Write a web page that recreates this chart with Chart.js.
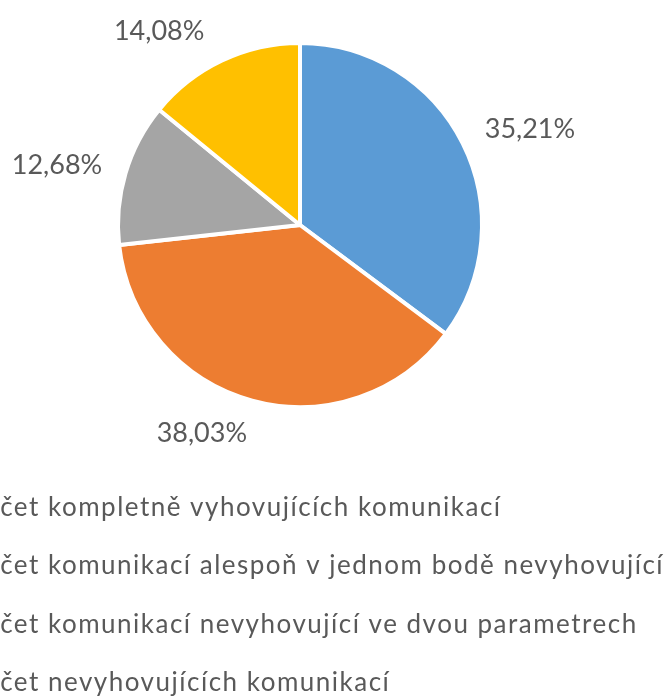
<!DOCTYPE html>
<html lang="cs">
<head>
<meta charset="utf-8">
<title>Počet komunikací</title>
<script src="https://cdn.jsdelivr.net/npm/chart.js@4/dist/chart.umd.min.js"></script>
<style>
  html, body { margin: 0; padding: 0; width: 670px; height: 697px; overflow: hidden; background: #fff; }
  #wrap { position: relative; width: 670px; height: 697px; overflow: hidden; }
  #myChart { position: absolute; top: -30px; }
</style>
</head>
<body>
<div id="wrap"><canvas id="myChart"></canvas></div>
<script>
'use strict';

const categories = [
  "Počet kompletně vyhovujících komunikací",
  "Počet komunikací alespoň v jednom bodě nevyhovující",
  "Počet komunikací nevyhovující ve dvou parametrech",
  "Počet nevyhovujících komunikací",
];
const shares = [35.21, 38.03, 12.68, 14.08];
const colors = ["#5B9BD5", "#ED7D31", "#A5A5A5", "#FFC000"];

// Excel "best fit" label placement, relative to each slice's middle
const labelAngleShift = [4.1, 10.0, -2.7, -10.7];
const labelDistance = [1.383, 1.28, 1.39, 1.33];

const textColor = "#595959";
const fontFamily = "Lato, 'Open Sans', sans-serif";
const legendFont = 26;
const legendSpacing = "1.5px";
const legendPad = 32.5;
const legendBox = 12;

function formatShare(v) {
  return v.toFixed(2).replace(".", ",") + "%";
}

// legend entries are cut at the left edge, like in the source picture ("Po" is hidden)
function canvasShift() {
  const ctx = document.createElement("canvas").getContext("2d");
  ctx.font = legendFont + "px " + fontFamily;
  ctx.letterSpacing = legendSpacing;
  return legendPad + legendBox + legendFont / 2 + ctx.measureText("Po").width;
}

// wider legend text (Calibri look); context state is reset when the canvas is sized
const spacing = {
  id: "spacing",
  beforeUpdate(chart) { chart.ctx.letterSpacing = legendSpacing; },
  beforeDraw(chart) { chart.ctx.letterSpacing = legendSpacing; },
};

const pieLabels = {
  id: "pieLabels",
  afterDatasetsDraw(chart) {
    const ctx = chart.ctx;
    const arcs = chart.getDatasetMeta(0).data;
    ctx.save();
    ctx.letterSpacing = "0px";
    ctx.font = "27px " + fontFamily;
    ctx.fillStyle = textColor;
    ctx.textAlign = "center";
    ctx.textBaseline = "middle";
    for (let i = 0; i < arcs.length; i++) {
      const arc = arcs[i];
      const mid = (arc.startAngle + arc.endAngle) / 2 + labelAngleShift[i] * Math.PI / 180;
      const dist = 180 * labelDistance[i];
      ctx.fillText(
        formatShare(shares[i]),
        arc.x + Math.cos(mid) * dist,
        arc.y + Math.sin(mid) * dist
      );
    }
    ctx.restore();
  },
};

const shift = canvasShift();
const canvas = document.getElementById("myChart");
canvas.width = Math.round(2 * (300 + shift));
canvas.height = 736;
canvas.style.left = (-shift) + "px";

new Chart(canvas, {
  type: "pie",
  data: {
    labels: categories,
    datasets: [
      {
        data: shares,
        backgroundColor: colors,
        borderColor: "#ffffff",
        borderWidth: 4,
      },
    ],
  },
  options: {
    responsive: false,
    animation: false,
    radius: 182,
    layout: { padding: { top: 18, left: 0, right: 0, bottom: 0 } },
    plugins: {
      legend: {
        position: "bottom",
        align: "start",
        labels: {
          color: textColor,
          font: { family: fontFamily, size: legendFont },
          boxWidth: legendBox,
          boxHeight: legendBox,
          padding: legendPad,
        },
      },
      tooltip: { enabled: false },
    },
  },
  plugins: [spacing, pieLabels],
});
</script>
</body>
</html>
